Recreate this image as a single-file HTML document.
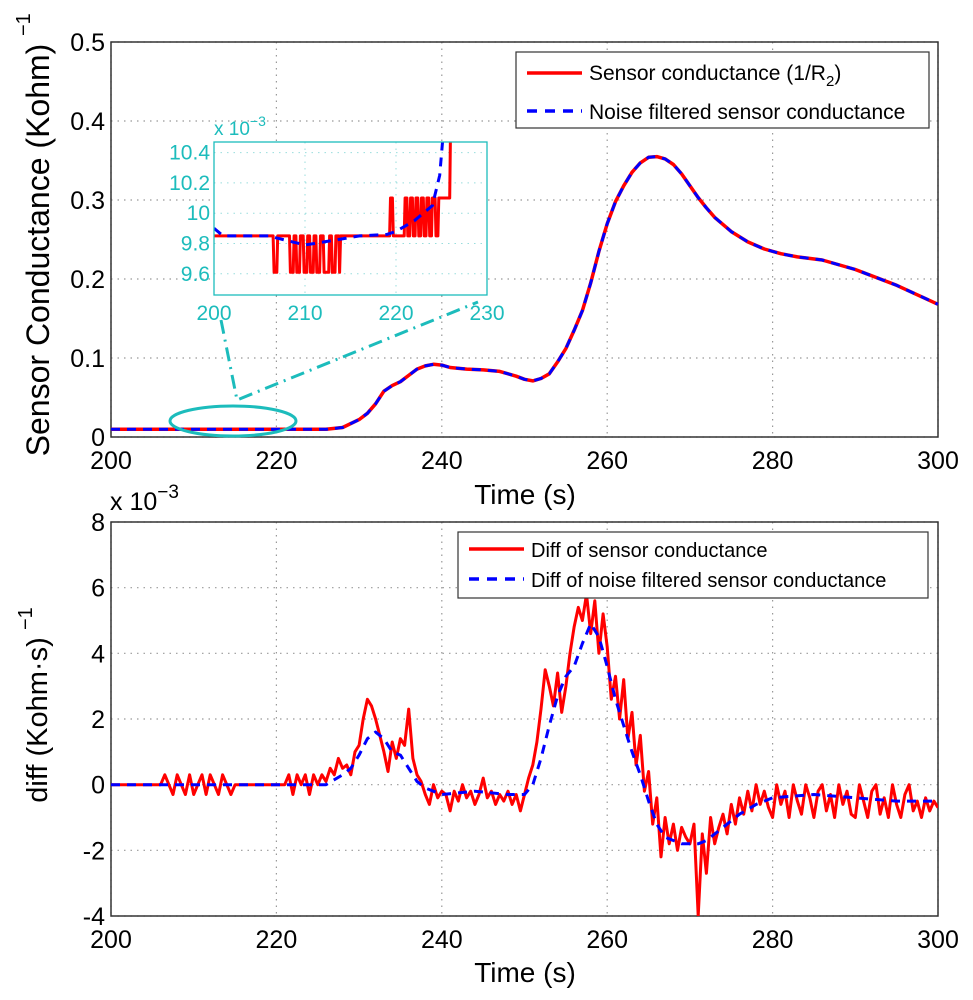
<!DOCTYPE html>
<html><head><meta charset="utf-8"><style>
body{margin:0;background:#fff}
svg{display:block;font-family:"Liberation Sans",Arial,sans-serif}
</style></head><body>
<svg id="chart" width="973" height="1000" viewBox="0 0 973 1000" xmlns="http://www.w3.org/2000/svg">
<rect width="973" height="1000" fill="#fff"/>
<g id="top"></g>
<g id="bot"></g>
</svg>
<script>
// ---------- data ----------
const xTicks=[200,220,240,260,280,300];
const topYTicks=[0,0.1,0.2,0.3,0.4,0.5];
const topYLabels=["0","0.1","0.2","0.3","0.4","0.5"];
const condT=[200,226,228,230,231,232,233,234,235,236,237,238,239,240,241,243,245,247,249,250,251,252,253,254,255,256,257,258,259,260,261,262,263,264,265,266,267,268,269,270,271,272,273,275,277,279,281,283,286,290,295,300];
const condV=[0.0098,0.0098,0.012,0.022,0.03,0.042,0.058,0.065,0.07,0.078,0.086,0.09,0.092,0.091,0.088,0.086,0.085,0.083,0.077,0.073,0.071,0.074,0.08,0.095,0.112,0.135,0.16,0.195,0.235,0.27,0.298,0.318,0.335,0.347,0.354,0.355,0.352,0.345,0.333,0.318,0.303,0.29,0.278,0.26,0.247,0.238,0.232,0.228,0.224,0.212,0.192,0.168];
const filtV=condV;
const insetXTicks=[200,210,220,230];
const insetYTicks=[9.6,9.8,10,10.2,10.4];
const insetYLabels=["9.6","9.8","10","10.2","10.4"];
const insetRedT=[200,206.5,206.6,206.9,207,208.3,208.4,208.7,208.8,209,209.1,209.4,209.5,209.8,209.9,210.2,210.3,210.5,210.6,210.9,211,211.2,211.3,211.6,211.7,212,212.1,212.6,212.7,212.9,213,213.3,213.4,213.7,213.8,219.3,219.4,219.6,219.7,220.9,221,221.2,221.3,221.5,221.6,221.8,221.9,222.1,222.2,222.4,222.5,222.7,222.8,223,223.1,223.3,223.4,223.6,223.7,223.9,224,224.3,224.4,224.6,224.7,225.9,226];
const insetRedV=[9.85,9.85,9.61,9.61,9.85,9.85,9.61,9.61,9.85,9.85,9.61,9.61,9.85,9.85,9.61,9.61,9.85,9.85,9.61,9.61,9.85,9.85,9.61,9.61,9.85,9.85,9.61,9.61,9.85,9.85,9.61,9.61,9.85,9.85,9.61,9.85,10.1,10.1,9.85,9.85,10.1,10.1,9.85,9.85,10.1,10.1,9.85,9.85,10.1,10.1,9.85,9.85,10.1,10.1,9.85,9.85,10.1,10.1,9.85,9.85,10.1,10.1,9.85,9.85,10.1,10.1,10.6];
const insetBlueT=[200,201,206,208,210,212,214,216,219,220,222,224,224.8,225.3];
const insetBlueV=[9.9,9.85,9.85,9.82,9.79,9.81,9.83,9.85,9.86,9.88,9.95,10.05,10.25,10.6];
const botYTicks=[-4,-2,0,2,4,6,8];
const diffV=[0,0,0,0,0,0,0,0,0,0,0,0,0,
0.3,0,-0.3,0.3,0,-0.3,0.3,-0.3,0,0.3,-0.3,0.3,0,-0.3,0.3,0,-0.3,0,
0,0,0,0,0,0,0,0,0,0,0,0,
0.3,-0.3,0.3,0,0.3,-0.3,0.3,0,0.3,0.1,
0.5,0.3,0.8,0.5,0.6,0.3,1.0,1.2,
2.0,2.6,2.4,2.0,1.5,1.0,0.4,1.3,0.8,1.4,1.2,2.3,0.8,0.3,0.1,-0.3,-0.6,0,-0.4,-0.2,
-0.3,-0.8,-0.2,-0.5,0,-0.4,-0.2,-0.6,-0.3,0.2,-0.4,-0.2,-0.6,-0.3,-0.5,-0.2,-0.6,-0.3,-0.8,-0.3,
0.2,0.6,1.3,2.3,3.5,3.0,2.4,3.4,2.2,3.0,4.0,4.8,5.4,5.0,5.8,4.6,5.6,4.0,5.2,4.2,
2.6,3.3,2.0,3.2,1.4,2.2,0.6,1.5,-0.2,0.4,-1.2,-0.4,-2.2,-1.0,-1.8,-1.2,-2.0,-1.3,-1.6,-1.8,
-1.2,-4.0,-1.5,-2.7,-1.0,-1.8,-1.3,-0.9,-1.5,-0.6,-1.2,-0.4,-0.9,-0.2,-0.8,0,-0.6,-0.2,-0.7,-1.0,
0,-0.6,-0.2,-1.0,0,-0.5,-0.9,0,-0.4,-1.0,-0.2,0,-0.8,-0.3,-1.0,0,-0.6,-0.2,-0.9,-1.0,
0,-0.5,-1.0,-0.2,0,-0.9,-0.4,-1.0,0,-0.6,-1.0,-0.3,0,-0.8,-0.5,-1.0,-0.4,-0.8,-0.5,-0.7];
const diffFT=[200,226,228,229,230,231,232,233,234,235,236,237,238,240,244,248,250,251,252,253,254,255,256,257,258,259,260,261,262,263,264,265,266,267,269,271,272,274,276,278,280,285,290,295,300];
const diffFV=[0,0,0.3,0.5,0.9,1.4,1.6,1.4,1.0,0.9,0.5,0.1,-0.1,-0.3,-0.2,-0.3,-0.3,0,0.8,1.8,2.7,3.3,3.6,4.3,4.9,4.5,3.6,2.6,1.8,1.0,0.3,-0.5,-1.2,-1.6,-1.8,-1.8,-1.7,-1.3,-0.9,-0.6,-0.4,-0.3,-0.4,-0.5,-0.5];

// ---------- helpers ----------
const NS="http://www.w3.org/2000/svg";
function mk(p,tag,at,txt){const e=document.createElementNS(NS,tag);for(const k in at)e.setAttribute(k,at[k]);if(txt!==undefined)e.textContent=txt;p.appendChild(e);return e;}
const L=111,R=938;
const sx=t=>L+(t-200)/100*(R-L);
const TT=42,TB=437; const sy1=v=>TB-(v/0.5)*(TB-TT);
const BT=522,BB=916; const sy2=v=>BB-((v+4)/12)*(BB-BT);
const IL=214,IR=487,IT=142,IB=295;
const ix=t=>IL+(t-200)/30*(IR-IL);
const iy=v=>IB-(v-9.46)/1.01*(IB-IT);

function axes(g,T,B,yt,ylab,sy,name){
  xTicks.forEach(t=>{const x=sx(t);
    const gl=mk(g,'line',{x1:x,x2:x,y1:T,y2:B,stroke:'#999','stroke-dasharray':'1.5 5','stroke-width':1.2});
    
    const tl=mk(g,'text',{x:x,y:B+32,'font-size':25,'text-anchor':'middle'},String(t));
    
  });
  yt.forEach((v,i)=>{const y=sy(v);
    const gl=mk(g,'line',{x1:L,x2:R,y1:y,y2:y,stroke:'#999','stroke-dasharray':'1.5 5','stroke-width':1.2});
    
    const tl=mk(g,'text',{x:L-6,y:y+9,'font-size':25,'text-anchor':'end'},ylab[i]);
    
  });
  const fr=mk(g,'rect',{x:L,y:T,width:R-L,height:B-T,fill:'none',stroke:'#333','stroke-width':1.5});
  
}
function poly(g,pts,col,w,dash,name){
  const p=mk(g,'polyline',{points:pts.map(a=>a[0].toFixed(1)+','+a[1].toFixed(1)).join(' '),fill:'none',stroke:col,'stroke-width':w,'stroke-linejoin':'round'});
  if(dash)p.setAttribute('stroke-dasharray',dash);
  
  return p;
}

// ---------- top chart ----------
const gt=document.getElementById('top');
axes(gt,TT,TB,topYTicks,topYLabels,sy1,'top');
poly(gt,condT.map((t,i)=>[sx(t),sy1(condV[i])]),'#ff0000',3.5,null,'sensor-conductance-line');
poly(gt,condT.map((t,i)=>[sx(t),sy1(filtV[i])]),'#0000ff',3,'9 7','filtered-conductance-line');
let e;
e=mk(gt,'text',{x:0,y:0,'font-size':32,'text-anchor':'middle',transform:'translate(49,250) rotate(-90)'},'Sensor Conductance (Kohm)');

e=mk(gt,'text',{x:0,y:0,'font-size':20,transform:'translate(30,36) rotate(-90)'},'−1');

e=mk(gt,'text',{x:525,y:504,'font-size':28,'text-anchor':'middle'},'Time (s)');

// legend
const lg=mk(gt,'g',{});
mk(lg,'rect',{x:516,y:52,width:413,height:76,fill:'#fff',stroke:'#333','stroke-width':1.2});
mk(lg,'line',{x1:527,x2:582,y1:73,y2:73,stroke:'#f00','stroke-width':3.5});
mk(lg,'line',{x1:527,x2:582,y1:111,y2:111,stroke:'#00f','stroke-width':3.5,'stroke-dasharray':'10 8'});
e=mk(lg,'text',{x:589,y:80,'font-size':21},'Sensor conductance (1/R');
mk(e,'tspan',{'font-size':15,dy:6},'2');mk(e,'tspan',{dy:-6},')');

e=mk(lg,'text',{x:589,y:119,'font-size':21},'Noise filtered sensor conductance');

// zoom ellipse & connectors
const teal='#1cbcbc';
e=mk(gt,'ellipse',{cx:233,cy:421,rx:63,ry:15,fill:'none',stroke:teal,'stroke-width':3});

e=mk(gt,'polyline',{points:'221,320 237,400 478,302',fill:'none',stroke:teal,'stroke-width':3,'stroke-dasharray':'14 6 2 6'});

// inset
const gi=mk(gt,'g',{});
mk(gi,'rect',{x:IL,y:IT,width:IR-IL,height:IB-IT,fill:'#fff'});
insetXTicks.forEach(t=>{const x=ix(t);
  mk(gi,'line',{x1:x,x2:x,y1:IT,y2:IB,stroke:'#9dd','stroke-dasharray':'1.5 5'});
  const tl=mk(gi,'text',{x:x,y:IB+25,'font-size':21,'text-anchor':'middle',fill:teal},String(t));
  });
insetYTicks.forEach((v,i)=>{const y=iy(v);
  mk(gi,'line',{x1:IL,x2:IR,y1:y,y2:y,stroke:'#9dd','stroke-dasharray':'1.5 5'});
  const tl=mk(gi,'text',{x:IL-4,y:y+7,'font-size':21,'text-anchor':'end',fill:teal},insetYLabels[i]);
  });
const icp=mk(gi,'clipPath',{id:'ic'});mk(icp,'rect',{x:IL,y:IT,width:IR-IL,height:IB-IT});
const gic=mk(gi,'g',{'clip-path':'url(#ic)'});
const redPts=[];
insetRedT.forEach((t,i)=>{redPts.push([ix(t),iy(insetRedV[i])]);});
redPts.splice(35,0,[ix(insetRedT[34])+1,iy(insetRedV[33])]);
poly(gic,redPts,'#ff0000',3,null,'inset-sensor-line');
poly(gic,insetBlueT.map((t,i)=>[ix(t),iy(insetBlueV[i])]),'#0000ff',3,'9 7','inset-filtered-line');
mk(gi,'rect',{x:IL,y:IT,width:IR-IL,height:IB-IT,fill:'none',stroke:teal,'stroke-width':1.3});
e=mk(gi,'text',{x:214,y:135,'font-size':19,fill:teal},'x 10');
mk(e,'tspan',{'font-size':14,dy:-9},'−3');


// ---------- bottom chart ----------
const gb=document.getElementById('bot');
axes(gb,BT,BB,botYTicks,botYTicks.map(String),sy2,'bottom');
const cp=mk(gb,'clipPath',{id:'bc'});mk(cp,'rect',{x:L,y:BT,width:R-L,height:BB-BT});
const gbc=mk(gb,'g',{'clip-path':'url(#bc)'});
poly(gbc,diffV.map((v,i)=>[sx(200+i*0.5),sy2(v)]),'#ff0000',3,null,'diff-sensor-line');
poly(gbc,diffFT.map((t,i)=>[sx(t),sy2(diffFV[i])]),'#0000ff',3,'9 7','diff-filtered-line');
e=mk(gb,'text',{x:110,y:510,'font-size':25},'x 10');
mk(e,'tspan',{'font-size':19,dy:-12},'−3');

e=mk(gb,'text',{x:0,y:0,'font-size':29,'text-anchor':'middle',transform:'translate(47,720) rotate(-90)'},'diff (Kohm·s)');

e=mk(gb,'text',{x:0,y:0,'font-size':20,transform:'translate(32,630) rotate(-90)'},'−1');

e=mk(gb,'text',{x:525,y:982,'font-size':28,'text-anchor':'middle'},'Time (s)');

const lg2=mk(gb,'g',{});
mk(lg2,'rect',{x:458,y:532,width:470,height:66,fill:'#fff',stroke:'#333','stroke-width':1.2});
mk(lg2,'line',{x1:469,x2:524,y1:549,y2:549,stroke:'#f00','stroke-width':3.5});
mk(lg2,'line',{x1:469,x2:524,y1:579,y2:579,stroke:'#00f','stroke-width':3.5,'stroke-dasharray':'10 8'});
e=mk(lg2,'text',{x:531,y:557,'font-size':20},'Diff of sensor conductance');

e=mk(lg2,'text',{x:531,y:587,'font-size':20},'Diff of noise filtered sensor conductance');

</script>
</body></html>
